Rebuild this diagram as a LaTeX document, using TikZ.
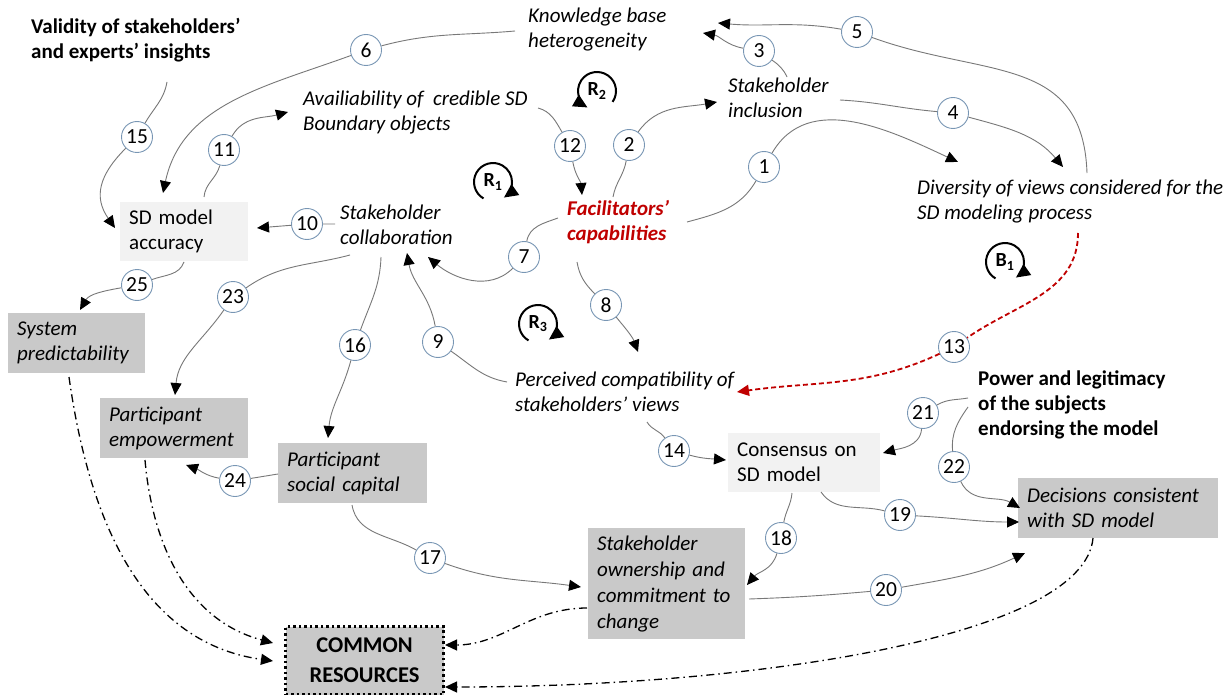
\documentclass[tikz,border=0pt]{standalone}
\usepackage{fontspec}
\setmainfont{Carlito}
\usetikzlibrary{arrows.meta,calc}
\definecolor{circ}{RGB}{120,150,180}
\definecolor{lnk}{RGB}{120,120,120}
\definecolor{lightbox}{RGB}{242,242,242}
\definecolor{graybox}{RGB}{201,201,201}
\definecolor{facred}{RGB}{192,0,0}
\tikzset{
  itx/.style={inner sep=0pt, align=left, anchor=west, font=\fontsize{21}{25}\selectfont\itshape},
  btx/.style={inner sep=0pt, align=left, anchor=west, font=\fontsize{21}{25}\selectfont\bfseries},
  boxbase/.style={anchor=north west, inner xsep=9pt, inner ysep=0pt, align=left},
  lbox/.style={boxbase, fill=lightbox, font=\fontsize{21}{25}\selectfont},
  gbox/.style={boxbase, fill=graybox, font=\fontsize{21}{25}\selectfont\itshape},
  combox/.style={anchor=north west, fill=graybox, draw=black, line width=3pt, dash pattern=on 2.5pt off 3pt, inner xsep=9pt, inner ysep=0pt, align=center, font=\fontsize{22.5}{30}\selectfont\bfseries},
  num/.style={circle, draw=circ, fill=white, line width=0.9pt, minimum size=31pt, inner sep=0pt, font=\fontsize{21.5}{24}\selectfont},
  conn/.style={draw=lnk, line width=0.9pt, -{Triangle[length=12pt,width=11pt,color=black]}},
  redconn/.style={draw=facred, line width=1.8pt, dash pattern=on 5pt off 3pt, -{Triangle[length=12pt,width=11pt,color=facred]}},
  dd/.style={draw=black, line width=1.3pt, dash pattern=on 8pt off 4pt on 1.5pt off 4pt, -{Triangle[length=12pt,width=11pt,color=black]}},
  looplbl/.style={inner sep=0pt, font=\fontsize{20}{22}\selectfont\bfseries},
  loopc/.style={draw=black, line width=2pt, -{Triangle[length=14pt,width=13pt,color=black]}}
}
\begin{document}
\begin{tikzpicture}[x=1pt,y=1pt]
\fill[white] (0,0) rectangle (1231,-695);
\useasboundingbox (0,0) rectangle (1231,-695);

% text nodes
\node[btx] (val) at (31,-40.5) {Validity of stakeholders’\\and experts’ insights};
\node[itx] (kb) at (528,-29.5) {Knowledge base\\heterogeneity};
\node[itx] (av) at (303,-112.5) {Availiability of\ \ credible SD\\Boundary objects};
\node[itx] (si) at (728,-97.5) {Stakeholder\\inclusion};
\node[itx] (div) at (917,-201.5) {Diversity of views considered for the\\SD modeling process};
\node[itx] (sc) at (340,-224.5) {Stakeholder\\collaboration};
\node[itx, font=\fontsize{21}{25}\selectfont\bfseries\itshape, text=facred] (fac) at (567,-222.5) {Facilitators’\\capabilities};
\node[itx] (pc) at (515,-391.5) {Perceived compatibility of\\stakeholders’ views};
\node[btx] (pow) at (978,-405) {Power and legitimacy\\of the subjects\\endorsing the model};

% boxes
\node[lbox, text width=110pt, minimum height=59pt] (acc) at (120,-202) {SD model\\accuracy};
\node[gbox, text width=119pt, minimum height=60pt] (sp) at (8,-313) {System\\predictability};
\node[gbox, text width=130pt, minimum height=60pt] (pe) at (100,-398) {Participant\\empowerment};
\node[gbox, text width=131pt, minimum height=60pt] (psc) at (278,-443) {Participant\\social capital};
\node[lbox, text width=134pt, minimum height=59pt] (cons) at (728,-433) {Consensus on\\SD model};
\node[gbox, text width=182pt, minimum height=60pt] (dec) at (1018,-478) {Decisions consistent\\with SD model};
\node[gbox, text width=139pt, minimum height=111pt, font=\fontsize{21}{26}\selectfont\itshape] (own) at (588,-528) {Stakeholder\\ownership and\\commitment to\\change};
\node[combox, text width=140pt, minimum height=68pt] (com) at (284,-625) {COMMON\\RESOURCES};

% number circles
\node[num] (n1) at (764,-167) {1};
\node[num] (n2) at (629,-145) {2};
\node[num] (n3) at (759,-51) {3};
\node[num] (n4) at (953,-113) {4};
\node[num] (n5) at (857,-32) {5};
\node[num] (n6) at (366,-50) {6};
\node[num] (n7) at (524,-257) {7};
\node[num] (n8) at (606,-305) {8};
\node[num] (n9) at (438,-342) {9};
\node[num] (n10) at (307,-224) {10};
\node[num] (n11) at (224,-150) {11};
\node[num] (n12) at (570,-146) {12};
\node[num] (n13) at (954,-347) {13};
\node[num] (n14) at (674,-451) {14};
\node[num] (n15) at (137,-137) {15};
\node[num] (n16) at (355,-345) {16};
\node[num] (n17) at (430,-558) {17};
\node[num] (n18) at (781,-538) {18};
\node[num] (n19) at (900,-515) {19};
\node[num] (n20) at (886,-590) {20};
\node[num] (n21) at (923,-413) {21};
\node[num] (n22) at (954,-467) {22};
\node[num] (n23) at (233,-297) {23};
\node[num] (n24) at (235,-481) {24};
\node[num] (n25) at (137,-285) {25};

% connectors
\draw[conn] ([shift={(120,0.5)}]fac.west) to[out=15,in=-120] (n1) to[out=60,in=155] ([shift={(41,39.5)}]div.west);
\draw[conn] ([shift={(46,25.5)}]fac.west) to[out=80,in=-100] (n2) to[out=55,in=190] ([shift={(-11,-4.5)}]si.west);
\draw[conn] ([shift={(59,20.5)}]si.west) to[out=115,in=-35] (n3) to[out=170,in=-10] ([shift={(175,-3.5)}]kb.west);
\draw[conn] ([shift={(112,-2.5)}]si.west) to[out=-3,in=175] (n4) to[out=-15,in=130] ([shift={(146,34.5)}]div.west);
\draw[conn] ([shift={(170,28.5)}]div.west) to[out=92,in=-20,looseness=1.2] (n5) to[out=170,in=-5] ([shift={(190,6.5)}]kb.west);
\draw[conn] ([shift={(-13,-1.5)}]kb.west) to[out=185,in=15] (n6) to[out=200,in=78] ([shift={(43,9)}]acc.north west);
\draw[conn] ([shift={(-9,4.5)}]fac.west) to[out=200,in=80] (n7) to[out=225,in=-40] ([shift={(88,-32.5)}]sc.west);
\draw[conn] ([shift={(10,-39.5)}]fac.west) to[out=-80,in=135] (n8) to[out=-50,in=110] ([shift={(123,39.5)}]pc.west);
\draw[conn] ([shift={(-8,9.5)}]pc.west) to[out=170,in=-35] (n9) to[out=100,in=-80] ([shift={(67,-28.5)}]sc.west);
\draw[conn] ([shift={(-5,0.5)}]sc.west) -- (n10) -- ([shift={(137,-26)}]acc.north west);
\draw[conn] ([shift={(84,5)}]acc.north west) to[out=85,in=-105] (n11) to[out=60,in=195] ([shift={(-15,0.5)}]av.west);
\draw[conn] ([shift={(235,4.5)}]av.west) to[out=-15,in=120] (n12) to[out=-80,in=95] ([shift={(15,27.5)}]fac.west);
\draw[redconn] ([shift={(161,-31.5)}]div.west) to[out=-90,in=35] (n13) to[out=205,in=8] ([shift={(222,-0.5)}]pc.west);
\draw[conn] ([shift={(132,-30.5)}]pc.west) to[out=-60,in=125] (n14) to[out=-15,in=175] ([shift={(-2,-27)}]cons.north west);
\draw[conn] ([shift={(136,-41.5)}]val.west) to[out=-100,in=60] (n15) to[out=225,in=125,looseness=1.2] ([shift={(-5,-26)}]acc.north west);
\draw[conn] ([shift={(41,-32.5)}]sc.west) to[out=-92,in=70] (n16) to[out=-105,in=85] ([shift={(50,5)}]psc.north west);
\draw[conn] ([shift={(74,-62)}]psc.north west) to[out=-80,in=150] (n17) to[out=-20,in=172] ([shift={(-7,-59)}]own.north west);
\draw[conn] ([shift={(64,-60)}]cons.north west) to[out=-95,in=80] (n18) to[out=-105,in=50] ([shift={(159,-57)}]own.north west);
\draw[conn] ([shift={(93,-59)}]cons.north west) to[out=-55,in=165] (n19) to[out=-3,in=180] ([shift={(1,-44)}]dec.north west);
\draw[conn] ([shift={(161,-71)}]own.north west) to[out=2,in=185] (n20) to[out=10,in=-155] ([shift={(7,-75)}]dec.north west);
\draw[conn] ([shift={(-10,7)}]pow.west) to[out=190,in=30] (n21) to[out=-95,in=15] ([shift={(155,-20)}]cons.north west);
\draw[conn] ([shift={(-10,-2)}]pow.west) to[out=-125,in=95] (n22) to[out=-65,in=150] ([shift={(2,-30)}]dec.north west);
\draw[conn] ([shift={(10,-30.5)}]sc.west) to[out=195,in=35] (n23) to[out=-125,in=85] ([shift={(75,3)}]pe.north west);
\draw[conn] ([shift={(0,-31)}]psc.north west) -- (n24) to[out=170,in=-20] ([shift={(86,-67)}]pe.north west);
\draw[conn] ([shift={(64,-60)}]acc.north west) to[out=-110,in=20] (n25) to[out=190,in=60] ([shift={(72,3)}]sp.north west);

% dash-dot links to common resources
\draw[dd] ([shift={(61,-64)}]sp.north west) to[out=-82,in=172] ([shift={(-11,-36)}]com.north west);
\draw[dd] ([shift={(45,-62)}]pe.north west) to[out=-85,in=165] ([shift={(-11,-18)}]com.north west);
\draw[dd] ([shift={(-1,-80)}]own.north west) to[out=180,in=0] ([shift={(161,-20)}]com.north west);
\draw[dd] ([shift={(75,-60)}]dec.north west) to[out=-95,in=0,out distance=100pt,in distance=305pt] ([shift={(161,-62)}]com.north west);

% loop markers
\node[looplbl] (r1) at (493,-182) {R\textsubscript{1}};
\draw[loopc] ([shift={(240:19)}]r1.center) arc[start angle=240,end angle=-55,radius=19];
\node[looplbl] (r2) at (597,-91) {R\textsubscript{2}};
\draw[loopc] ([shift={(-35:19)}]r2.center) arc[start angle=-35,end angle=240,radius=19];
\node[looplbl] (r3) at (538,-324) {R\textsubscript{3}};
\draw[loopc] ([shift={(240:19)}]r3.center) arc[start angle=240,end angle=-55,radius=19];
\node[looplbl] (b1) at (1005,-262) {B\textsubscript{1}};
\draw[loopc] ([shift={(240:19)}]b1.center) arc[start angle=240,end angle=-55,radius=19];
\end{tikzpicture}
\end{document}
